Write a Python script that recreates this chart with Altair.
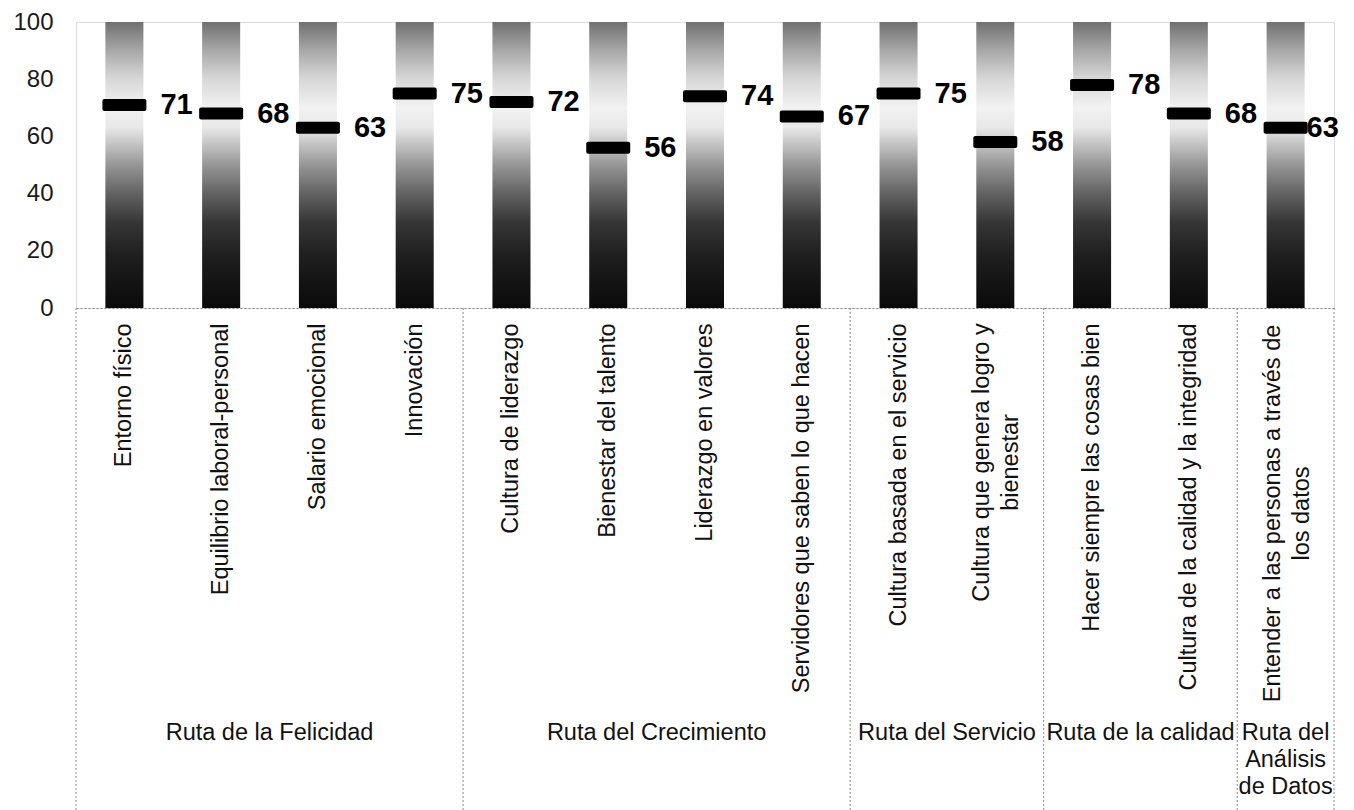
import altair as alt
import pandas as pd

# Indicators (line breaks mark where long names wrap on the axis)
categories = [
    "Entorno físico",
    "Equilibrio laboral-personal",
    "Salario emocional",
    "Innovación",
    "Cultura de liderazgo",
    "Bienestar del talento",
    "Liderazgo en valores",
    "Servidores que saben lo que hacen",
    "Cultura basada en el servicio",
    "Cultura que genera logro y\nbienestar",
    "Hacer siempre las cosas bien",
    "Cultura de la calidad y la integridad",
    "Entender a las personas a través de\nlos datos",
]
scores = [71, 68, 63, 75, 72, 56, 74, 67, 75, 58, 78, 68, 63]

# Routes that group the indicators, with the number of indicators in each
routes = [
    "Ruta de la Felicidad",
    "Ruta del Crecimiento",
    "Ruta del Servicio",
    "Ruta de la calidad",
    "Ruta del\nAnálisis\nde Datos",
]
route_sizes = [4, 4, 2, 2, 1]

FONT = "Liberation Sans"
n = len(categories)

df = pd.DataFrame({
    "indicador": categories,
    "puntaje": scores,
    "tope": [100] * n,
    "orden": list(range(n)),
})

# Route spans on a 0..n index scale
starts, ends = [], []
acc = 0
for s in route_sizes:
    starts.append(acc)
    acc += s
    ends.append(acc)
routes_df = pd.DataFrame({
    "ruta": routes,
    "inicio": starts,
    "fin": ends,
    "centro": [(a + b) / 2 for a, b in zip(starts, ends)],
})
bounds_df = pd.DataFrame({"limite": [0] + ends})

PLOT_W = 1258
PLOT_H = 286

# Wrapped labels are centred line by line; their padding puts the top of
# the longest line just under the axis, like the single-line labels, and
# the offset centres the pair of lines on the bar.
wrapped = "indexof(datum.value, '\\n') >= 0"
wrapped_pad = "indexof(datum.value, 'Entender') == 0 ? 205 : 154"

x_band = alt.X(
    "indicador:N",
    sort=categories,
    scale=alt.Scale(paddingInner=0.607, paddingOuter=0.3035),
    axis=alt.Axis(
        title=None,
        labelAngle=-90,
        labelAlign={"condition": {"test": wrapped, "value": "center"}, "value": "right"},
        labelBaseline="middle",
        labelPadding={"condition": {"test": wrapped, "expr": wrapped_pad}, "value": 15},
        labelOffset={"condition": {"test": wrapped, "value": -13}, "value": 0},
        labelFont=FONT,
        labelFontSize=23.5,
        labelColor="#111111",
        labelLimit=600,
        labelLineHeight=29,
        labelExpr="split(datum.label, '\\n')",
        ticks=False,
        domainColor="#8a8a8a",
        domainDash=[2, 2],
        domainWidth=1,
    ),
)
y_scale = alt.Scale(domain=[0, 100], nice=False)

gradient = alt.Gradient(
    gradient="linear",
    x1=0, y1=0, x2=0, y2=1,
    stops=[
        alt.GradientStop(color="#707070", offset=0.0),
        alt.GradientStop(color="#a8a8a8", offset=0.10),
        alt.GradientStop(color="#d8d8d8", offset=0.20),
        alt.GradientStop(color="#f2f2f2", offset=0.30),
        alt.GradientStop(color="#e8e8e8", offset=0.37),
        alt.GradientStop(color="#c8c8c8", offset=0.42),
        alt.GradientStop(color="#969696", offset=0.50),
        alt.GradientStop(color="#626262", offset=0.60),
        alt.GradientStop(color="#363636", offset=0.70),
        alt.GradientStop(color="#1e1e1e", offset=0.82),
        alt.GradientStop(color="#0a0a0a", offset=1.0),
    ],
)

bars = alt.Chart(df).mark_bar(color=gradient).encode(
    x=x_band,
    y=alt.Y(
        "tope:Q",
        scale=y_scale,
        axis=alt.Axis(
            title=None,
            values=[0, 20, 40, 60, 80, 100],
            grid=False,
            ticks=False,
            domain=False,
            labelPadding=23,
            labelFont=FONT,
            labelFontSize=24,
            labelColor="#1a1a1a",
        ),
    ),
)

markers = alt.Chart(df).mark_tick(
    color="black", size=44, thickness=12, cornerRadius=2, opacity=1
).encode(
    x=x_band,
    y=alt.Y("puntaje:Q", scale=y_scale),
)

label_style = dict(
    align="left", baseline="middle", font=FONT, fontSize=29,
    fontWeight="bold", color="black",
)
labels = alt.Chart(df).transform_filter(
    alt.datum.orden < n - 1
).mark_text(dx=36, **label_style).encode(
    x=x_band,
    y=alt.Y("puntaje:Q", scale=y_scale),
    text="puntaje:Q",
)
last_label = alt.Chart(df).transform_filter(
    alt.datum.orden == n - 1
).mark_text(dx=21, **label_style).encode(
    x=x_band,
    y=alt.Y("puntaje:Q", scale=y_scale),
    text="puntaje:Q",
)

main = alt.layer(bars, markers, labels, last_label)

x_index = alt.Scale(domain=[0, n], nice=False, zero=False)

separators = alt.Chart(bounds_df).mark_rule(
    color="#8a8a8a", strokeDash=[2, 2], strokeWidth=1
).encode(
    x=alt.X("limite:Q", scale=x_index, axis=None),
    y=alt.value(PLOT_H),
    y2=alt.value(PLOT_H + 520),
)

route_text = alt.Chart(routes_df).mark_text(
    align="center", baseline="top", font=FONT, fontSize=23.5,
    color="#111111", lineBreak="\n", lineHeight=27,
).encode(
    x=alt.X("centro:Q", scale=x_index, axis=None),
    y=alt.value(PLOT_H + 413),
    text="ruta:N",
)

annotations = alt.layer(separators, route_text)

chart = alt.layer(main, annotations).resolve_scale(x="independent").properties(
    width=PLOT_W,
    height=PLOT_H,
    autosize=alt.AutoSizeParams(type="none"),
    padding={"left": 76, "top": 22, "right": 20, "bottom": 502},
).configure_view(stroke=None).configure(background="white")

chart.save("out.html", embed_options={"renderer": "svg", "actions": False})
